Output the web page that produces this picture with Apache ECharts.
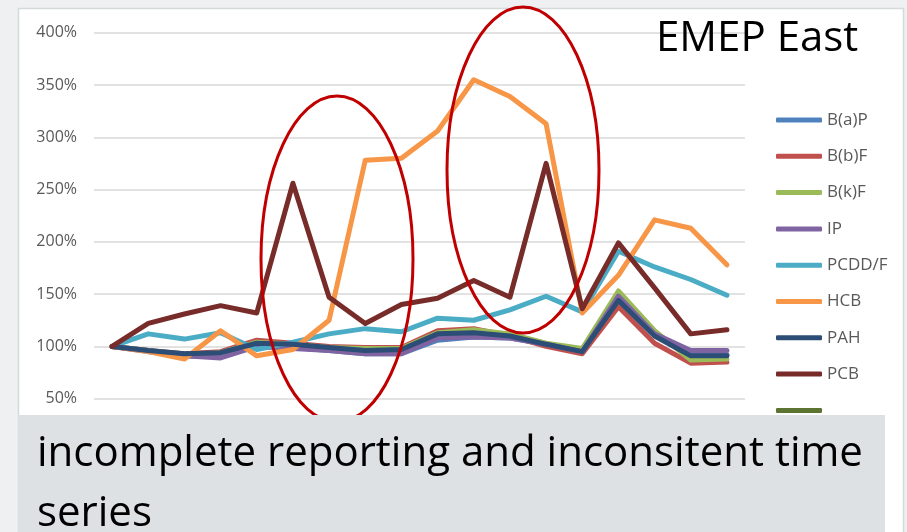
<!DOCTYPE html>
<html>
<head>
<meta charset="utf-8">
<script src="https://cdn.jsdelivr.net/npm/echarts@6/dist/echarts.min.js"></script>
<style>
html,body{margin:0;padding:0;background:#eef0f2;}
#c{width:907px;height:532px;}
</style>
</head>
<body>
<div id="c"></div>
<script>
const categories = ['1990','1991','1992','1993','1994','1995','1996','1997','1998','1999','2000','2001','2002','2003','2004','2005','2006','2007'];
const yTicks = [50, 100, 150, 200, 250, 300, 350, 400];
const seriesNames = ['B(a)P','B(b)F','B(k)F','IP','PCDD/F','HCB','PAH','PCB',' '];
const BaP   = [100, 96, 91, 90, 100, 99, 96, 93, 93, 106, 109, 108, 102, 94, 146, 112, 92, 92];
const BbF   = [100, 96, 93, 95, 106, 103, 100, 99, 99, 115, 117, 110, 100, 93, 138, 103, 84, 85];
const BkF   = [100, 96, 92, 94, 104, 102, 99, 98, 98, 113, 116, 112, 103, 98, 153, 115, 87, 88];
const IP    = [100, 95, 91, 89, 100, 98, 96, 93, 93, 108, 109, 108, 102, 95, 148, 112, 96, 96];
const PCDDF = [100, 112, 107, 113, 97, 104, 112, 117, 114, 127, 125, 135, 148, 133, 191, 176, 164, 149];
const HCB   = [100, 95, 88, 115, 91, 97, 125, 278, 280, 306, 355, 339, 313, 132, 168, 221, 213, 178];
const PAH   = [100, 96, 93, 94, 103, 102, 99, 96, 97, 112, 113, 110, 102, 95, 144, 110, 91, 91];
const PCB   = [100, 122, 131, 139, 132, 256, 147, 122, 140, 146, 163, 147, 275, 136, 199, 156, 112, 116];
const Unnamed = [];
const colors = ['#4F81BD','#C0504D','#9BBB59','#8064A2','#4BACC6','#F79646','#2C4D75','#772C2A','#5B7431'];
const dataSets = [BaP, BbF, BkF, IP, PCDDF, HCB, PAH, PCB, Unnamed];

const chart = echarts.init(document.getElementById('c'));
const series = seriesNames.map((n, i) => ({
  name: n, type: 'line', data: dataSets[i], symbol: 'none', z: 2 + i,
  lineStyle: { width: 5, color: colors[i], cap: 'round', join: 'round' },
  itemStyle: { color: colors[i] }
}));
chart.setOption({
  animation: false,
  backgroundColor: 'transparent',
  textStyle: { fontFamily: 'Open Sans' },
  grid: { left: 94, right: 162, top: 32.7, bottom: 133.3, containLabel: false },
  xAxis: {
    type: 'category', data: categories, boundaryGap: true,
    axisLine: { show: false }, axisTick: { show: false }, axisLabel: { show: false }
  },
  yAxis: {
    type: 'value', min: yTicks[0], max: yTicks[yTicks.length - 1], interval: 50,
    axisLine: { show: false }, axisTick: { show: false },
    axisLabel: { formatter: '{value}%', color: '#595959', fontSize: 16, margin: 17, fontFamily: 'Open Sans' },
    splitLine: { lineStyle: { color: '#D9D9D9', width: 1.5 } }
  },
  legend: {
    orient: 'vertical', left: 776, top: 110, padding: 0, itemWidth: 46, itemHeight: 5, itemGap: 16.3,
    icon: 'roundRect',
    data: seriesNames,
    textStyle: { color: '#595959', fontSize: 17, lineHeight: 20, fontFamily: 'Open Sans' }
  },
  graphic: [
    { type: 'rect', z: -10, silent: true, shape: { x: 18.5, y: 8.5, width: 885, height: 530 },
      style: { fill: '#ffffff', stroke: '#D6D9DC', lineWidth: 1.5 } },
    { type: 'ellipse', z: 50, silent: true, shape: { cx: 337, cy: 259, rx: 76, ry: 163 },
      style: { fill: 'none', stroke: '#C00000', lineWidth: 3 } },
    { type: 'ellipse', z: 50, silent: true, shape: { cx: 523, cy: 170, rx: 76, ry: 163 },
      style: { fill: 'none', stroke: '#C00000', lineWidth: 3 } },
    { type: 'text', z: 60, silent: true, left: 656, top: 18,
      style: { text: 'EMEP East', fill: '#000000', font: '42px "Open Sans"' } },
    { type: 'rect', z: 80, silent: true, shape: { x: 18, y: 415, width: 867, height: 117 },
      style: { fill: '#DEE1E4' } },
    { type: 'text', z: 90, silent: true, x: 37, y: 454,
      style: { text: 'incomplete reporting and inconsitent time', fill: '#000000', font: '42px "Open Sans"', verticalAlign: 'middle' } },
    { type: 'text', z: 90, silent: true, x: 37, y: 514,
      style: { text: 'series', fill: '#000000', font: '42px "Open Sans"', verticalAlign: 'middle' } }
  ],
  series: series
});
</script>
</body>
</html>
